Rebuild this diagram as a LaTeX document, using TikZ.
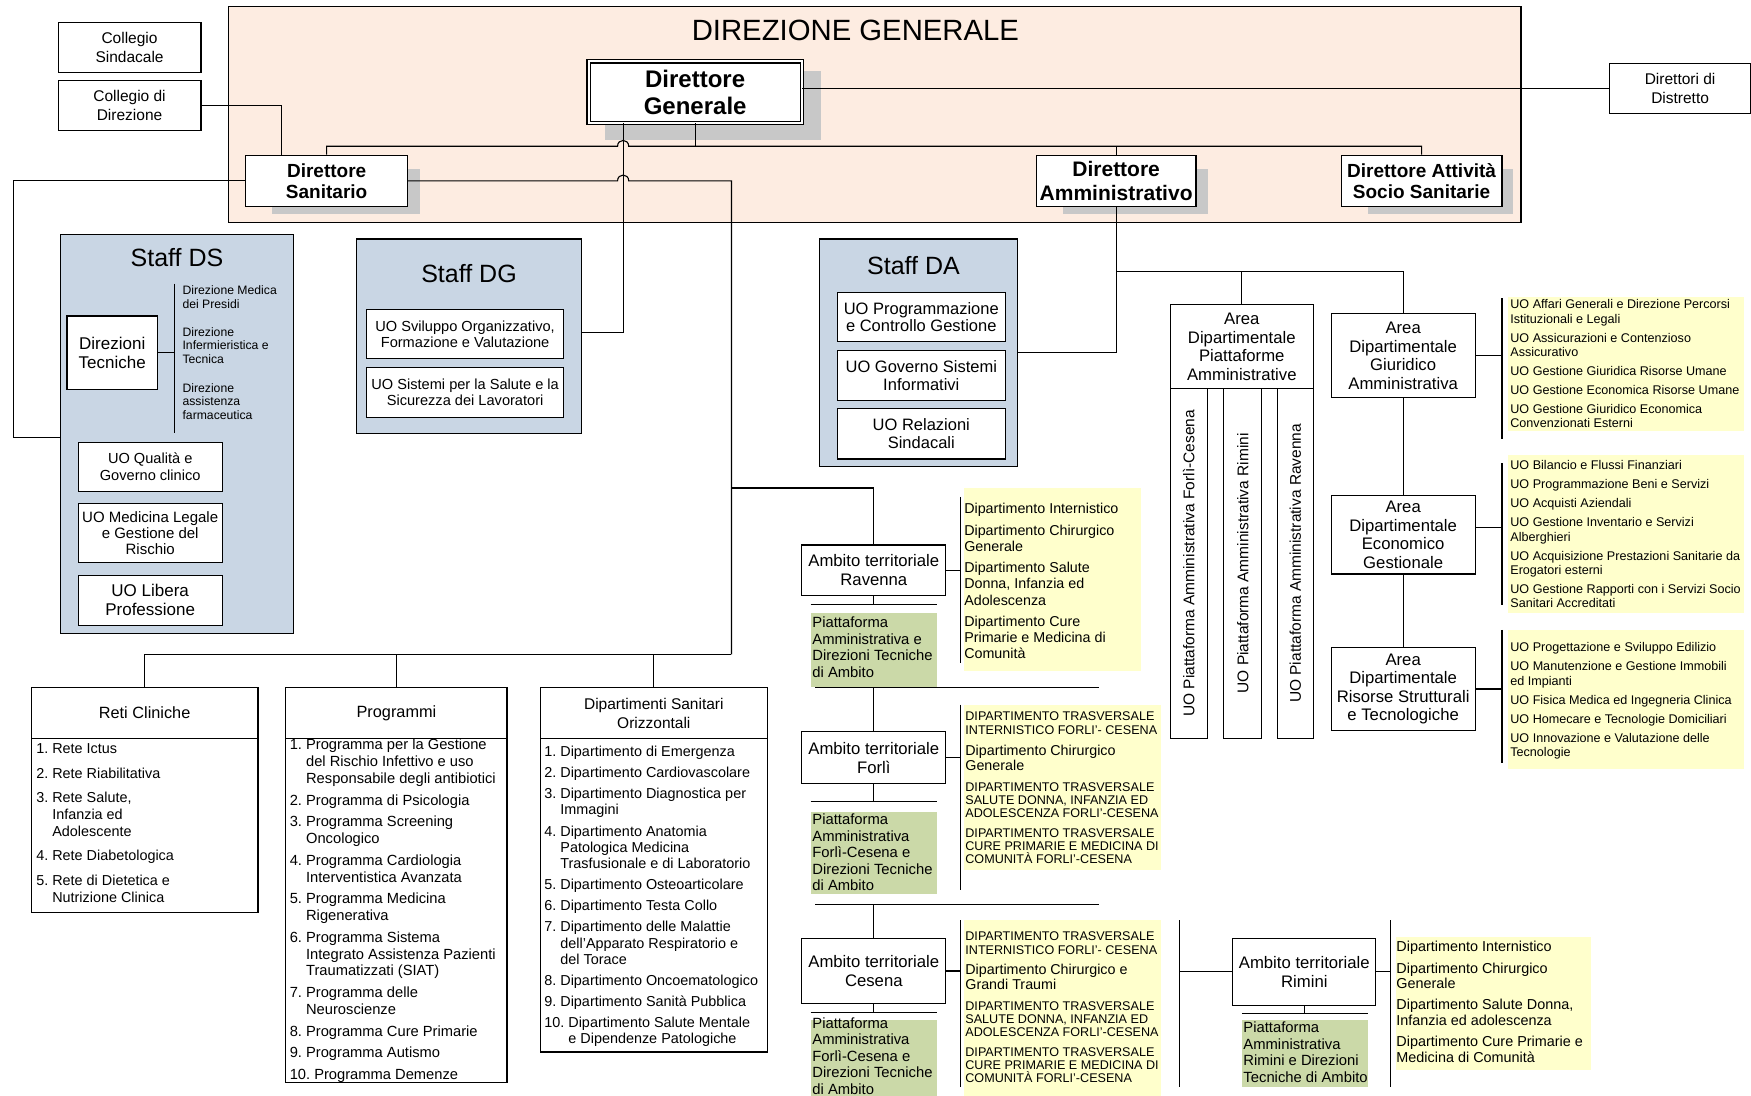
\documentclass[tikz,border=0pt]{standalone}
\usepackage{fontspec}
\setmainfont{Liberation Sans}
\usetikzlibrary{positioning}

\definecolor{dgpeach}{HTML}{FDECE1}
\definecolor{staffblue}{HTML}{C9D6E4}
\definecolor{listyellow}{HTML}{FFFFCC}
\definecolor{platgreen}{HTML}{CBD9A8}
\definecolor{shadowgray}{HTML}{C8C8C8}

% indent for the wrapped lines of a numbered item
\newcommand{\numind}[1]{\hphantom{#1~}}
% line fonts for the mixed ambito lists
\newcommand{\capsline}{\fontsize{12.6}{13.4}\selectfont}
\newcommand{\mixline}{\fontsize{14.3}{16.2}\selectfont}

\begin{document}
\begin{tikzpicture}[x=1.1167pt, y=-1.1167pt, line width=1.1pt,
    corners/.style n args={4}{minimum width={(#3-#1)*1.1167pt}, minimum height={(#4-#2)*1.1167pt}, at={({(#1+#3)/2},{(#2+#4)/2})}},
    box/.style={draw, fill=white, inner sep=0pt, align=center, font=\fontsize{15.5}{19}\selectfont},
    chief/.style={box, font=\fontsize{19}{21.2}\selectfont\bfseries},
    staffbox/.style={draw, fill=staffblue, inner sep=0pt},
    stafftitle/.style={inner sep=0pt, font=\fontsize{25}{28}\selectfont},
    uo/.style={box, font=\fontsize{14.6}{16.2}\selectfont},
    uobig/.style={box, font=\fontsize{16.5}{17.9}\selectfont},
    area/.style={box, font=\fontsize{16.7}{18.6}\selectfont},
    pillar/.style={draw, fill=white, inner sep=0pt},
    pillartext/.style={rotate=90, inner sep=0pt, font=\fontsize{15.5}{18}\selectfont},
    ambito/.style={box, font=\fontsize{16.7}{18.8}\selectfont},
    head/.style={box, font=\fontsize{16.3}{19}\selectfont},
    greenbg/.style={fill=platgreen, inner sep=0pt},
    yellowbg/.style={fill=listyellow, inner sep=0pt},
    lst/.style={anchor=north west, inner sep=0pt, align=left},
    note/.style={lst, anchor=west, font=\fontsize{12.2}{13.4}\selectfont},
    uolist/.style={lst, font=\fontsize{12.6}{14.3}\selectfont},
    deplist/.style={lst, font=\fontsize{14.3}{16.2}\selectfont},
    greentext/.style={lst, font=\fontsize{14.8}{16.5}\selectfont}
]
\useasboundingbox (0,0) rectangle (1568,981);

% Direzione Generale
\node[draw, fill=dgpeach, inner sep=0pt, corners={205}{6}{1362}{199}] (dgarea) {};
\node[inner sep=0pt, font=\fontsize{29.3}{32}\selectfont] (dgtitle) at (766,27) {DIREZIONE GENERALE};

% shadows
\fill[shadowgray] (542,64) rectangle (735,125);
\fill[shadowgray] (244,151) rectangle (376,192);
\fill[shadowgray] (952,151) rectangle (1082,192);
\fill[shadowgray] (1225,151) rectangle (1355,192);

% top boxes
\node[box, corners={52}{20}{180}{65}] (colsind) {Collegio\\Sindacale};
\node[box, corners={52}{72}{180}{117}] (coldir) {Collegio di\\Direzione};
\node[box, corners={1441}{57}{1568}{102}] (distr) {Direttori di\\Distretto};
\node[box, double, double distance=2pt, corners={527}{55}{718}{110}, font=\fontsize{24}{26.8}\selectfont\bfseries] (dg) {Direttore\\Generale};
\node[chief, corners={220}{139}{365}{185}] (ds) {Direttore\\Sanitario};
\node[chief, corners={928}{139}{1071}{185}, font=\fontsize{21}{23.5}\selectfont\bfseries] (da) {Direttore\\Amministrativo};
\node[chief, corners={1201}{139}{1345}{185}] (dass) {Direttore Attività\\Socio Sanitarie};

% Staff DS
\node[staffbox, corners={54}{210}{263}{567}] (staffds) {};
\node[stafftitle, below=14pt of staffds.north] (staffdstitle) {Staff DS};
\node[box, font=\fontsize{17}{19}\selectfont, corners={60}{283}{141}{349}] (dirtec) {Direzioni\\Tecniche};
\node[note] (dirmed) at (163,266) {Direzione Medica\\dei Presidi};
\node[note] (dirinf) at (163,309.5) {Direzione\\Infermieristica e\\Tecnica};
\node[note] (dirfarm) at (163,359.5) {Direzione\\assistenza\\farmaceutica};
\node[uo, corners={70}{396}{199}{440}] (uoqual) {UO Qualità e\\Governo clinico};
\node[uo, font=\fontsize{15}{16.2}\selectfont, corners={70}{451}{199}{504}] (uomedleg) {UO Medicina Legale\\e Gestione del\\Rischio};
\node[box, font=\fontsize{17}{19}\selectfont, corners={70}{515}{199}{560}] (uolib) {UO Libera\\Professione};

% Staff DG
\node[staffbox, corners={319}{214}{521}{388}] (staffdg) {};
\node[stafftitle, below=25pt of staffdg.north] (staffdgtitle) {Staff DG};
\node[uo, corners={328}{277}{505}{321}] (uosvil) {UO Sviluppo Organizzativo,\\Formazione e Valutazione};
\node[uo, corners={328}{329}{505}{374}] (uosic) {UO Sistemi per la Salute e la\\Sicurezza dei Lavoratori};

% Staff DA
\node[staffbox, corners={734}{214}{911}{418}] (staffda) {};
\node[stafftitle, below=17pt of staffda.north, xshift=-5pt] (staffdatitle) {Staff DA};
\node[uobig, corners={750}{262}{900}{306}] (uoprog) {UO Programmazione\\e Controllo Gestione};
\node[uobig, corners={750}{314}{900}{359}] (uogov) {UO Governo Sistemi\\Informativi};
\node[uobig, corners={750}{366}{900}{411}] (uorel) {UO Relazioni\\Sindacali};

% Aree dipartimentali
\node[area, corners={1048}{273}{1176}{348}] (areapiat) {Area\\Dipartimentale\\Piattaforme\\Amministrative};
\node[pillar, corners={1048}{348}{1081}{661}] (colfc) {};
\node[pillar, corners={1096}{348}{1130}{661}] (colrn) {};
\node[pillar, corners={1144}{348}{1176}{661}] (colra) {};
\node[pillartext] (colfctext) at (colfc) {UO Piattaforma Amministrativa Forlì-Cesena};
\node[pillartext] (colrntext) at (colrn) {UO Piattaforma Amministrativa Rimini};
\node[pillartext] (colratext) at (colra) {UO Piattaforma Amministrativa Ravenna};
\node[area, corners={1192}{281}{1321}{356}] (areagiu) {Area\\Dipartimentale\\Giuridico\\Amministrativa};
\node[area, corners={1192}{444}{1321}{514}] (areaeco) {Area\\Dipartimentale\\Economico\\Gestionale};
\node[area, corners={1192}{580}{1321}{654}] (arearis) {Area\\Dipartimentale\\Risorse Strutturali\\e Tecnologiche};

% UO lists of the aree
\node[yellowbg, corners={1350}{266}{1562}{386}] (giubg) {};
\node[yellowbg, corners={1350}{407}{1562}{549}] (ecobg) {};
\node[yellowbg, corners={1350}{564}{1562}{689}] (risbg) {};
\node[uolist] (giulist) at (1352,268) {UO Affari Generali e Direzione Percorsi\\Istituzionali e Legali\\[4.7pt]UO Assicurazioni e Contenzioso\\Assicurativo\\[4.7pt]UO Gestione Giuridica Risorse Umane\\[4.7pt]UO Gestione Economica Risorse Umane\\[4.7pt]UO Gestione Giuridico Economica\\Convenzionati Esterni};
\node[uolist] (ecolist) at (1352,412) {UO Bilancio e Flussi Finanziari\\[4.7pt]UO Programmazione Beni e Servizi\\[4.7pt]UO Acquisti Aziendali\\[4.7pt]UO Gestione Inventario e Servizi\\Alberghieri\\[4.7pt]UO Acquisizione Prestazioni Sanitarie da\\Erogatori esterni\\[4.7pt]UO Gestione Rapporti con i Servizi Socio\\Sanitari Accreditati};
\node[uolist] (rislist) at (1352,575) {UO Progettazione e Sviluppo Edilizio\\[4.7pt]UO Manutenzione e Gestione Immobili\\ed Impianti\\[4.7pt]UO Fisica Medica ed Ingegneria Clinica\\[4.7pt]UO Homecare e Tecnologie Domiciliari\\[4.7pt]UO Innovazione e Valutazione delle\\Tecnologie};

% Ambiti territoriali
\node[ambito, corners={718}{488}{847}{533}] (ravenna) {Ambito territoriale\\Ravenna};
\node[ambito, corners={718}{655}{847}{702}] (forli) {Ambito territoriale\\Forlì};
\node[ambito, corners={718}{840}{847}{899}] (cesena) {Ambito territoriale\\Cesena};
\node[ambito, corners={1104}{840}{1232}{900}] (rimini) {Ambito territoriale\\Rimini};

\node[greenbg, corners={726}{549}{839}{615}] (ravgreen) {};
\node[greenbg, corners={726}{727}{839}{801}] (forgreen) {};
\node[greenbg, corners={726}{913}{839}{990}] (cesgreen) {};
\node[greenbg, corners={1112}{913}{1225}{973}] (rimgreen) {};
\node[greentext] (ravplat) at (727,552) {Piattaforma\\Amministrativa e\\Direzioni Tecniche\\di Ambito};
\node[greentext] (forplat) at (727,728.5) {Piattaforma\\Amministrativa\\Forlì-Cesena e\\Direzioni Tecniche\\di Ambito};
\node[greentext] (cesplat) at (727,910.5) {Piattaforma\\Amministrativa\\Forlì-Cesena e\\Direzioni Tecniche\\di Ambito};
\node[greentext] (rimplat) at (1113,914.5) {Piattaforma\\Amministrativa\\Rimini e Direzioni\\Tecniche di Ambito};

\node[yellowbg, corners={863}{437}{1022}{601}] (ravbg) {};
\node[yellowbg, corners={863}{631}{1040}{779}] (forbg) {};
\node[yellowbg, corners={863}{824}{1040}{985}] (cesbg) {};
\node[yellowbg, corners={1250}{839}{1425}{958}] (rimbg) {};
\node[deplist] (ravlist) at (863,450.5) {Dipartimento Internistico\\[5pt]Dipartimento Chirurgico\\Generale\\[5pt]Dipartimento Salute\\Donna, Infanzia ed\\Adolescenza\\[5pt]Dipartimento Cure\\Primarie e Medicina di\\Comunità};
\node[deplist] (forlist) at (864,637) {\capsline DIPARTIMENTO TRASVERSALE\\[-2.8pt]\capsline INTERNISTICO FORLI’- CESENA\\[5pt]\mixline Dipartimento Chirurgico\\[-0.6pt]\mixline Generale\\[4pt]\capsline DIPARTIMENTO TRASVERSALE\\[-2.8pt]\capsline SALUTE DONNA, INFANZIA ED\\[-2.8pt]\capsline ADOLESCENZA FORLI’-CESENA\\[3pt]\capsline DIPARTIMENTO TRASVERSALE\\[-2.8pt]\capsline CURE PRIMARIE E MEDICINA DI\\[-2.8pt]\capsline COMUNITÀ FORLI’-CESENA};
\node[deplist] (ceslist) at (864,834) {\capsline DIPARTIMENTO TRASVERSALE\\[-2.8pt]\capsline INTERNISTICO FORLI’- CESENA\\[4pt]\mixline Dipartimento Chirurgico e\\[-0.6pt]\mixline Grandi Traumi\\[4pt]\capsline DIPARTIMENTO TRASVERSALE\\[-2.8pt]\capsline SALUTE DONNA, INFANZIA ED\\[-2.8pt]\capsline ADOLESCENZA FORLI’-CESENA\\[3pt]\capsline DIPARTIMENTO TRASVERSALE\\[-2.8pt]\capsline CURE PRIMARIE E MEDICINA DI\\[-2.8pt]\capsline COMUNITÀ FORLI’-CESENA};
\node[deplist, font=\fontsize{14.4}{15.6}\selectfont] (rimlist) at (1250,842.5) {Dipartimento Internistico\\[5.6pt]Dipartimento Chirurgico\\Generale\\[5.6pt]Dipartimento Salute Donna,\\Infanzia ed adolescenza\\[5.6pt]Dipartimento Cure Primarie e\\Medicina di Comunità};

% Reti, Programmi, Dipartimenti orizzontali
\node[head, corners={28}{616}{231}{661}] (retihead) {Reti Cliniche};
\node[box, corners={28}{661}{231}{817}] (retibody) {};
\node[head, corners={256}{616}{454}{661}] (proghead) {Programmi};
\node[box, corners={256}{661}{454}{969}] (progbody) {};
\node[head, font=\fontsize{15.5}{19}\selectfont, corners={484}{616}{687}{661}] (dsohead) {Dipartimenti Sanitari\\Orizzontali};
\node[box, corners={484}{661}{687}{942}] (dsobody) {};
\node[lst, font=\fontsize{14.4}{16.75}\selectfont] (retilist) at (32,665.5) {1.~Rete Ictus\\[7.8pt]2.~Rete Riabilitativa\\[7.8pt]3.~Rete Salute,\\\numind{3.}Infanzia ed\\\numind{3.}Adolescente\\[7.8pt]4.~Rete Diabetologica\\[7.8pt]5.~Rete di Dietetica e\\\numind{5.}Nutrizione Clinica};
\node[lst, font=\fontsize{14.7}{16.6}\selectfont] (proglist) at (259,661.5) {1.~Programma per la Gestione\\\numind{1.}del Rischio Infettivo e uso\\\numind{1.}Responsabile degli antibiotici\\[5.3pt]2.~Programma di Psicologia\\[5.3pt]3.~Programma Screening\\\numind{3.}Oncologico\\[5.3pt]4.~Programma Cardiologia\\\numind{4.}Interventistica Avanzata\\[5.3pt]5.~Programma Medicina\\\numind{5.}Rigenerativa\\[5.3pt]6.~Programma Sistema\\\numind{6.}Integrato Assistenza Pazienti\\\numind{6.}Traumatizzati (SIAT)\\[5.3pt]7.~Programma delle\\\numind{7.}Neuroscienze\\[5.3pt]8.~Programma Cure Primarie\\[5.3pt]9.~Programma Autismo\\[5.3pt]10.~Programma Demenze};
\node[lst, font=\fontsize{14.4}{16.1}\selectfont] (dsolist) at (487,667.5) {1.~Dipartimento di Emergenza\\[5.1pt]2.~Dipartimento Cardiovascolare\\[5.1pt]3.~Dipartimento Diagnostica per\\\numind{3.}Immagini\\[5.1pt]4.~Dipartimento Anatomia\\\numind{4.}Patologica Medicina\\\numind{4.}Trasfusionale e di Laboratorio\\[5.1pt]5.~Dipartimento Osteoarticolare\\[5.1pt]6.~Dipartimento Testa Collo\\[5.1pt]7.~Dipartimento delle Malattie\\\numind{7.}dell’Apparato Respiratorio e\\\numind{7.}del Torace\\[5.1pt]8.~Dipartimento Oncoematologico\\[5.1pt]9.~Dipartimento Sanità Pubblica\\[5.1pt]10.~Dipartimento Salute Mentale\\\numind{10.}e Dipendenze Patologiche};

% joints
\coordinate (dgbar) at (622,131);
\coordinate (cdjoin) at (252,139);
\coordinate (dsleft) at (12,392);
\coordinate (dgdrop) at (558,298);
\coordinate (spine) at (655,586);
\coordinate (ravjoin) at (655,437);
\coordinate (dabar) at (1000,243);
\coordinate (giubr) at (1345,267);
\coordinate (ecobr) at (1345,472);
\coordinate (risbr) at (1345,564);
\coordinate (ravbr) at (860,445);
\coordinate (forbr) at (860,631);
\coordinate (cesbr) at (860,824);
\coordinate (rimbr) at (1245,824);
\coordinate (rimleft) at (1056,824);
\coordinate (ravsep) at (726,541.5);
\coordinate (forsep) at (726,718);
\coordinate (cessep) at (726,907);
\coordinate (rimsep) at (1112,907.5);
\coordinate (ravforbar) at (730,616);
\coordinate (forcesbar) at (730,810);

% Direzione connectors
\draw (dg.south) -- (dg.south |- dgbar);
\draw (ds.north) -- (ds.north |- dgbar) -- (553,131) .. controls (553,124) and (563,124) .. (563,131) -- (dass.north |- dgbar) -- (dass.north);
\draw (da.north) -- (da.north |- dgbar);
\draw (dg.east |- distr.west) -- (distr.west);
\draw (coldir.east) -| (cdjoin);
\draw (ds.west) -| (dsleft) -- (dsleft -| staffds.west);
\draw (ds.east) -- (553,162) .. controls (553,155) and (563,155) .. (563,162) -- (spine |- ds.east) -- (spine);
\draw (dg.south -| dgdrop) -- (dgdrop) -- (dgdrop -| staffdg.east);
\draw (dirtec.east) -- (dirtec.east -| 156,0);
\draw (156,254) -- (156,388);

% Sanitario side
\draw (retihead.north) |- (spine);
\draw (proghead.north) -- (proghead.north |- spine);
\draw (dsohead.north) -- (dsohead.north |- spine);
\draw (ravenna.north) |- (ravjoin);

% Amministrativo side
\draw (da.south) |- (staffda.east);
\draw (areapiat.north) |- (dabar) -| (areagiu.north);
\draw (areagiu.south) -- (areaeco.north);
\draw (areaeco.south) -- (arearis.north);
\draw (giubr) -- ++(0,126);
\draw (areagiu.east) -- (areagiu.east -| giubr);
\draw (1345,415) -- (1345,542);
\draw (ecobr -| areaeco.east) -- (ecobr);
\draw (risbr) -- ++(0,119);
\draw (arearis.east) -- (arearis.east -| risbr);

% Ambiti
\draw (ravsep) -- ++(113,0);
\draw (ravenna.south) -- (ravenna.south |- ravsep);
\draw (ravbr) -- ++(0,149);
\draw (ravenna.east) -- (ravenna.east -| ravbr);
\draw (ravforbar) -- ++(254,0);
\draw (forli.north) -- (forli.north |- ravforbar);
\draw (forsep) -- ++(113,0);
\draw (forli.south) -- (forli.south |- forsep);
\draw (forbr) -- ++(0,166);
\draw (forli.east) -- (forli.east -| forbr);
\draw (forcesbar) -- ++(254,0);
\draw (cesena.north) -- (cesena.north |- forcesbar);
\draw (cessep) -- ++(113,0);
\draw (cesena.south) -- (cesena.south |- cessep);
\draw (cesbr) -- ++(0,149);
\draw (cesena.east) -- (cesena.east -| cesbr);
\draw (rimleft) -- ++(0,149);
\draw (rimini.west) -- (rimini.west -| rimleft);
\draw (rimsep) -- ++(113,0);
\draw (rimini.south) -- (rimini.south |- rimsep);
\draw (rimbr) -- ++(0,149);
\draw (rimini.east) -- (rimini.east -| rimbr);
\end{tikzpicture}
\end{document}
